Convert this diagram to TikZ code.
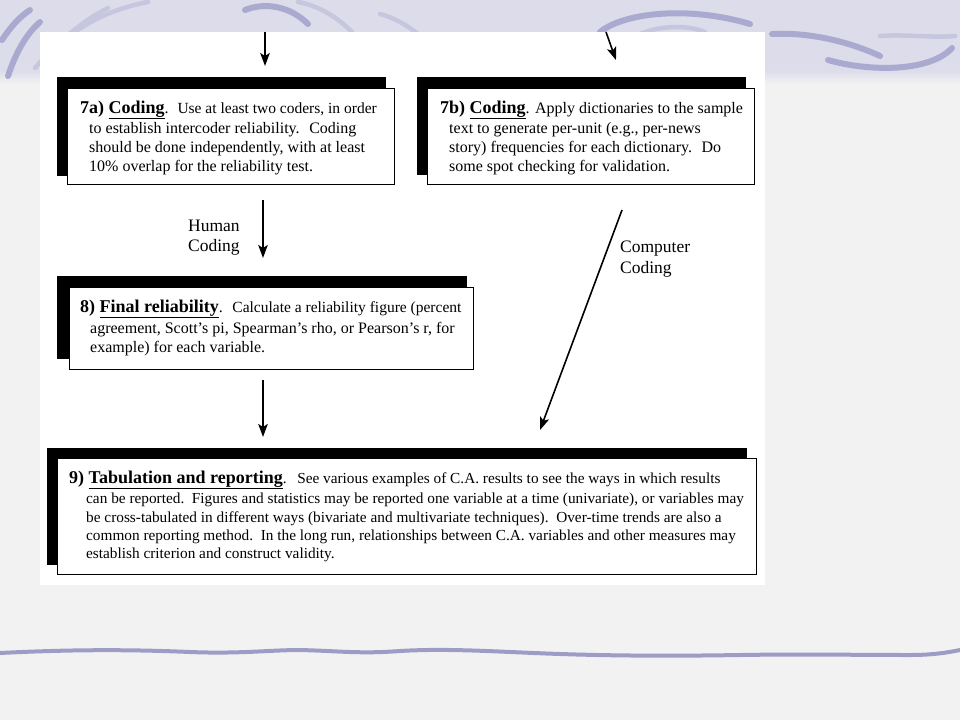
\documentclass[tikz,border=0pt]{standalone}
\usepackage{fontspec}
\setmainfont{Liberation Serif}
\usetikzlibrary{arrows.meta}
\definecolor{bgtop}{HTML}{DCDCEA}
\definecolor{bgmain}{HTML}{F2F2F3}
\definecolor{squig}{HTML}{AAAAD0}
\definecolor{squiglight}{HTML}{C6C6DF}
\definecolor{rule}{HTML}{9C9CC6}
\newcommand{\hfnt}{\fontsize{18}{22}\selectfont\bfseries}
\newcommand{\fnarrow}{\fontsize{15.5}{19}\selectfont}
\begin{document}
\begin{tikzpicture}[x=1pt,y=-1pt,
  shadowbox/.style={fill=black, draw=none, anchor=north west, inner sep=0pt, outer sep=0pt},
  whitebox/.style={fill=white, draw=black, line width=0.9pt, anchor=north west, inner sep=0pt, outer sep=0pt},
  body/.style={font=\fontsize{16}{19}\selectfont, inner sep=0pt, anchor=base west},
  bodyn/.style={font=\fontsize{15.3}{18}\selectfont, inner sep=0pt, anchor=base west},
  lbl/.style={font=\fontsize{17.5}{21}\selectfont, inner sep=0pt, anchor=base west},
  flow/.style={line width=1.6pt, -{Stealth[length=13pt,width=9.5pt,inset=3pt]}},
  sq/.style={line width=6pt, line cap=round, squig},
  sql/.style={line width=4.5pt, line cap=round, squiglight}]
\useasboundingbox (0,0) rectangle (960,720);
% slide background
\fill[bgmain] (0,0) rectangle (960,720);
\fill[bgtop] (0,0) rectangle (960,70);
\shade[top color=bgtop, bottom color=bgmain] (0,70) rectangle (960,84);
% squiggles top-left
\draw[sq] (8,76) .. controls (15,55) and (25,35) .. (40,22);
\draw[sql] (35,68) .. controls (55,45) and (80,22) .. (108,8);
\draw[sql] (62,42) .. controls (85,22) and (115,8) .. (148,2);
\draw[sq] (2,40) .. controls (10,28) and (18,18) .. (30,10);
% squiggles top-middle
\draw[sq] (245,10) .. controls (265,2) and (290,6) .. (308,24);
\draw[sql] (298,2) .. controls (320,6) and (338,18) .. (352,32);
\draw[sql] (380,14) .. controls (395,18) and (408,26) .. (418,34);
% squiggles top-right
\draw[sq] (600,32) .. controls (625,12) and (690,6) .. (750,24);
\draw[sql] (640,34) .. controls (665,24) and (690,26) .. (705,32);
\draw[sq] (772,34) .. controls (810,32) and (850,42) .. (880,56);
\draw[sq] (828,60) .. controls (870,72) and (930,72) .. (952,48);
\draw[sql] (880,36) .. controls (905,34) and (930,38) .. (955,36);
% bottom rule
\draw[rule, line width=4pt, line cap=round] (0,653) .. controls (60,650) and (120,649) .. (190,652)
  .. controls (240,654) and (270,650) .. (300,650) .. controls (340,651) and (360,654) .. (400,651)
  .. controls (450,648) and (500,652) .. (560,654) .. controls (620,656) and (680,656) .. (740,655)
  .. controls (800,654) and (860,655) .. (910,655) .. controls (935,655) and (950,652) .. (960,650);
% white panel
\node[fill=white, anchor=north west, inner sep=0pt, outer sep=0pt, minimum width=725pt, minimum height=553pt] (panel) at (40,32) {};
% boxes
\node[shadowbox, minimum width=329pt, minimum height=99pt] (s7a) at (57,77) {};
\node[whitebox, minimum width=327pt, minimum height=96pt] (b7a) at (67,88) {};
\node[shadowbox, minimum width=329pt, minimum height=98pt] (s7b) at (417,77) {};
\node[whitebox, minimum width=327pt, minimum height=96pt] (b7b) at (427,88) {};
\node[shadowbox, minimum width=410pt, minimum height=83pt] (s8) at (57,276) {};
\node[whitebox, minimum width=404pt, minimum height=82pt] (b8) at (69,287) {};
\node[shadowbox, minimum width=700pt, minimum height=117pt] (s9) at (47,448) {};
\node[whitebox, minimum width=699pt, minimum height=116pt] (b9) at (57,458) {};
% texts 7a
\node[body] (t7a1) at (80,113) {{\hfnt 7a) \underline{Coding}}.\hspace{0.55em}{\fnarrow Use at least two coders, in order}};
\node[body] (t7a2) at (89,133) {to establish intercoder reliability.\hspace{0.6em}Coding};
\node[body] (t7a3) at (89,152) {should be done independently, with at least};
\node[body] (t7a4) at (89,171) {10\% overlap for the reliability test.};
% texts 7b
\node[body] (t7b1) at (440,113) {{\hfnt 7b) \underline{Coding}}. Apply dictionaries to the sample};
\node[body] (t7b2) at (449,133) {text to generate per-unit (e.g., per-news};
\node[body] (t7b3) at (449,152) {story) frequencies for each dictionary.\hspace{0.6em}Do};
\node[body] (t7b4) at (449,171) {some spot checking for validation.};
% texts 8
\node[body] (t81) at (80,312) {{\hfnt 8) \underline{Final reliability}}.\hspace{0.6em}{\fnarrow Calculate a reliability figure (percent}};
\node[body] (t82) at (90,333) {agreement, Scott’s pi, Spearman’s rho, or Pearson’s r, for};
\node[body] (t83) at (90,352) {example) for each variable.};
% texts 9
\node[bodyn] (t91) at (69,483) {{\hfnt 9) \underline{Tabulation and reporting}}.\hspace{0.7em}See various examples of C.A. results to see the ways in which results};
\node[bodyn] (t92) at (86,503) {can be reported.\hspace{0.5em}Figures and statistics may be reported one variable at a time (univariate), or variables may};
\node[bodyn] (t93) at (86,522) {be cross-tabulated in different ways (bivariate and multivariate techniques).\hspace{0.5em}Over-time trends are also a};
\node[bodyn] (t94) at (86,540) {common reporting method.\hspace{0.5em}In the long run, relationships between C.A. variables and other measures may};
\node[bodyn] (t95) at (86,558) {establish criterion and construct validity.};
% labels
\node[lbl] (hum1) at (188,231) {Human};
\node[lbl] (hum2) at (188,251) {Coding};
\node[lbl] (cmp1) at (620,252) {Computer};
\node[lbl] (cmp2) at (620,273) {Coding};
% connectors
\coordinate (xa) at (265,0);
\coordinate (xb1) at (606,0);
\coordinate (xb2) at (622,0);
\coordinate (xh) at (263,0);
\coordinate (xc1) at (631.7,0);
\coordinate (xc2) at (533.3,0);
\draw[flow, shorten >=11pt] (panel.north -| xa) -- (s7a.north -| xa);
\draw[flow, shorten >=18pt] (panel.north -| xb1) -- (s7b.north -| xb2);
\draw[flow, shorten <=16pt, shorten >=18pt] (b7a.south -| xh) -- (s8.north -| xh);
\draw[flow, shorten <=11pt, shorten >=11pt] (b8.south -| xh) -- (s9.north -| xh);
\draw[flow, shorten <=27.7pt, shorten >=19.2pt] (b7b.south -| xc1) -- (s9.north -| xc2);
\end{tikzpicture}
\end{document}
